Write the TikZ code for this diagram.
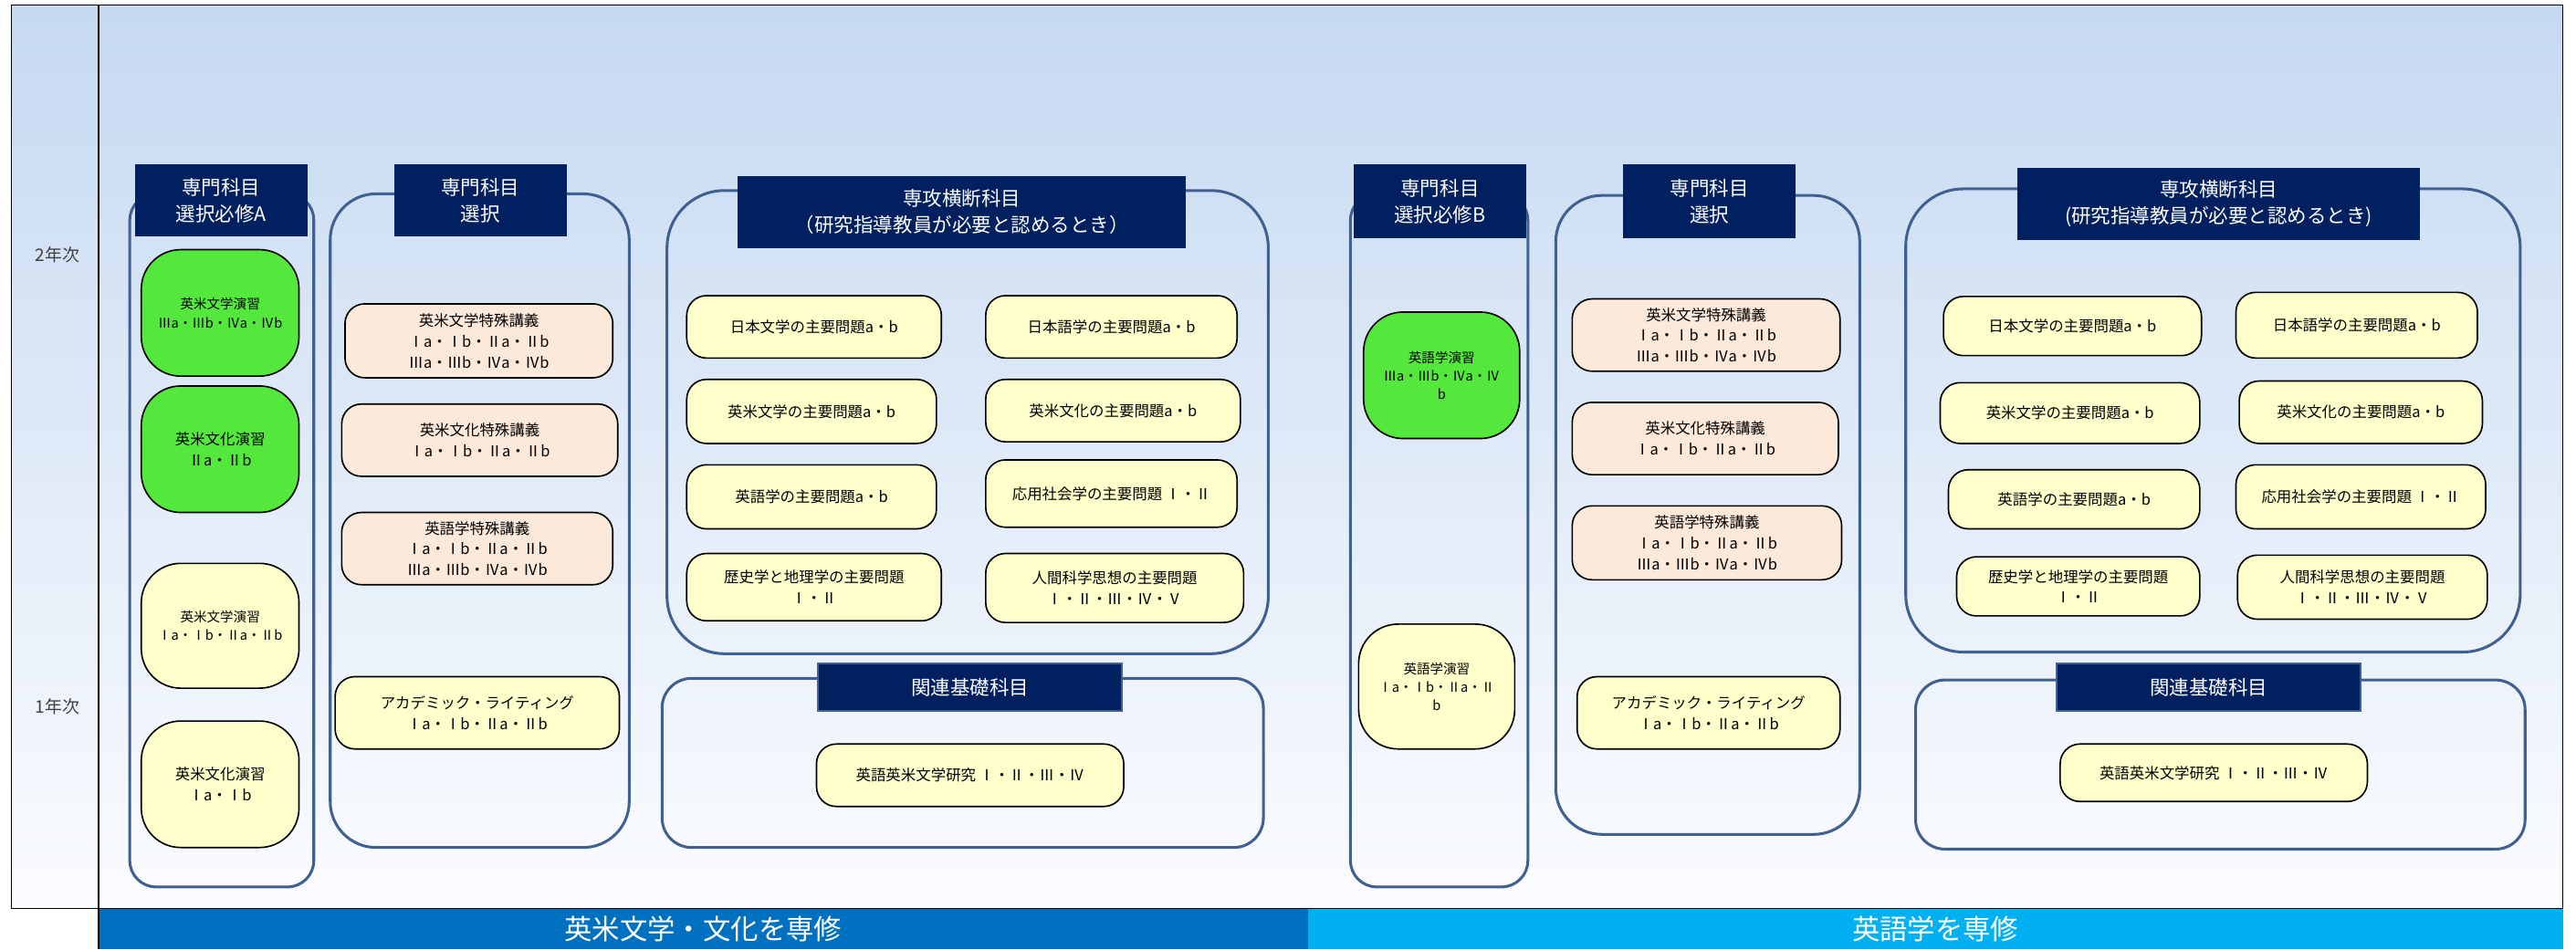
\documentclass[tikz,border=0pt]{standalone}
\usepackage{fontspec}
\setmainfont{Noto Sans CJK JP}
\usepackage{tikz}
\usepackage{xcolor}
\usetikzlibrary{positioning, calc}

\definecolor{navy}{RGB}{0,32,96}
\definecolor{frameblue}{RGB}{63,96,145}
\definecolor{leafgreen}{RGB}{84,232,60}
\definecolor{salmon}{RGB}{253,233,217}
\definecolor{cream}{RGB}{255,255,204}
\definecolor{skytop}{RGB}{197,217,241}
\definecolor{skymid}{RGB}{219,235,243}
\definecolor{skybottom}{RGB}{251,252,255}
\definecolor{barleft}{RGB}{0,112,192}
\definecolor{barright}{RGB}{0,176,240}
\definecolor{yeargray}{RGB}{64,64,64}

\newlength{\cellu}
\setlength{\cellu}{0.05cm}

\tikzset{
  boxsize/.style 2 args={minimum width=#1\cellu, minimum height=#2\cellu},
  head/.style={fill=navy, text=white, inner sep=0pt, align=center, font=\fontsize{17}{23}\selectfont},
  group/.style={draw=frameblue, line width=2.4pt},
  course/.style={draw=black, line width=1.3pt, rounded corners=0.6cm, inner sep=0pt, align=center, font=\fontsize{13}{18}\selectfont},
  seminar/.style={course, rounded corners=1.2cm},
  smalltext/.style={font=\fontsize{11.5}{16}\selectfont},
  bar/.style={inner sep=0pt, text=white, font=\fontsize{24}{28}\selectfont},
  yearlabel/.style={text=yeargray, font=\fontsize{15}{18}\selectfont}
}

\begin{document}
\begin{tikzpicture}[x=0.05cm, y=-0.05cm]
    \useasboundingbox (0,0) rectangle (1568,578);
    \shade[top color=skytop, middle color=skymid, bottom color=skybottom] (7,3) rectangle (1560,553);
    \node[bar, fill=barleft, boxsize={736}{25}] (majlit) at (428,565.5) {英米文学・文化を専修};
    \node[bar, fill=barright, boxsize={764}{25}] (majling) at (1178,565.5) {英語学を専修};
    \draw[line width=1.2pt] (7,3) rectangle (1560,553);
    \draw[line width=1.2pt] (60,3) -- (60,578);
    \node[yearlabel] (yr2) at (35,155) {2年次};
    \node[yearlabel] (yr1) at (35,430) {1年次};

    % 英米文学・文化
    \draw[group, rounded corners=0.8cm] (79,118) rectangle (191,540);
    \draw[group, rounded corners=1.4cm] (201,118) rectangle (383,516);
    \draw[group, rounded corners=1.75cm] (406,116) rectangle (772,398);
    \draw[group, rounded corners=0.9cm] (403,413) rectangle (769,516);

    \node[head, boxsize={105}{44}] (hda) at (134.5,122) {専門科目\\選択必修A};
    \node[seminar, smalltext, fill=leafgreen, boxsize={96}{77}] (semlit3) at (134,190.5) {英米文学演習\\Ⅲa・Ⅲb・Ⅳa・Ⅳb};
    \node[seminar, fill=leafgreen, boxsize={96}{77}] (semcul2) at (134,273.5) {英米文化演習\\Ⅱa・Ⅱb};
    \node[seminar, smalltext, fill=cream, boxsize={96}{76}] (semlit1) at (134,381) {英米文学演習\\Ⅰa・Ⅰb・Ⅱa・Ⅱb};
    \node[seminar, fill=cream, boxsize={96}{77}] (semcul1) at (134,477.5) {英米文化演習\\Ⅰa・Ⅰb};

    \node[head, boxsize={105}{44}] (hsa) at (292.5,122) {専門科目\\選択};
    \node[course, fill=salmon, boxsize={163}{45}] (split) at (291.5,207.5) {英米文学特殊講義\\Ⅰa・Ⅰb・Ⅱa・Ⅱb\\Ⅲa・Ⅲb・Ⅳa・Ⅳb};
    \node[course, fill=salmon, boxsize={168}{44}] (spcul) at (292,268) {英米文化特殊講義\\Ⅰa・Ⅰb・Ⅱa・Ⅱb};
    \node[course, fill=salmon, boxsize={165}{44}] (spling) at (290.5,334) {英語学特殊講義\\Ⅰa・Ⅰb・Ⅱa・Ⅱb\\Ⅲa・Ⅲb・Ⅳa・Ⅳb};
    \node[course, fill=cream, boxsize={173}{44}] (acwa) at (290.5,434) {アカデミック・ライティング\\Ⅰa・Ⅰb・Ⅱa・Ⅱb};

    \node[head, boxsize={273}{44}] (hca) at (585.5,129) {専攻横断科目\\（研究指導教員が必要と認めるとき）};
    \node[course, fill=cream, boxsize={155}{38}] (jlit) at (495.5,199) {日本文学の主要問題a・b};
    \node[course, fill=cream, boxsize={152}{39}] (alit) at (494,250.5) {英米文学の主要問題a・b};
    \node[course, fill=cream, boxsize={152}{39}] (eling) at (494,302.5) {英語学の主要問題a・b};
    \node[course, fill=cream, boxsize={155}{41}] (hist) at (495.5,357.5) {歴史学と地理学の主要問題\\Ⅰ・Ⅱ};
    \node[course, fill=cream, boxsize={153}{38}] (jling) at (676.5,199) {日本語学の主要問題a・b};
    \node[course, fill=cream, boxsize={155}{38}] (acul) at (677.5,250) {英米文化の主要問題a・b};
    \node[course, fill=cream, boxsize={153}{41}] (socio) at (676.5,300.5) {応用社会学の主要問題 Ⅰ・Ⅱ};
    \node[course, fill=cream, boxsize={157}{42}] (human) at (678.5,358) {人間科学思想の主要問題\\Ⅰ・Ⅱ・Ⅲ・Ⅳ・Ⅴ};

    \node[head, draw=frameblue, line width=1.5pt, boxsize={185}{29}] (hra) at (590.5,418.5) {関連基礎科目};
    \node[course, fill=cream, boxsize={187}{38}] (resa) at (590.5,472) {英語英米文学研究 Ⅰ・Ⅱ・Ⅲ・Ⅳ};

    % 英語学
    \draw[group, rounded corners=0.8cm] (822,118) rectangle (930,540);
    \draw[group, rounded corners=1.4cm] (947,119) rectangle (1132,508);
    \draw[group, rounded corners=1.75cm] (1160,115) rectangle (1534,397);
    \draw[group, rounded corners=0.9cm] (1166,414) rectangle (1537,517);

    \node[head, boxsize={105}{45}] (hdb) at (876.5,122.5) {専門科目\\選択必修B};
    \node[seminar, smalltext, fill=leafgreen, boxsize={95}{77}] (semlng3) at (877.5,228.5) {英語学演習\\Ⅲa・Ⅲb・Ⅳa・Ⅳ\\b};
    \node[seminar, smalltext, fill=cream, boxsize={95}{76}] (semlng1) at (874.5,418) {英語学演習\\Ⅰa・Ⅰb・Ⅱa・Ⅱ\\b};

    \node[head, boxsize={105}{45}] (hsb) at (1040.5,122.5) {専門科目\\選択};
    \node[course, fill=salmon, boxsize={163}{44}] (sqlit) at (1038.5,204) {英米文学特殊講義\\Ⅰa・Ⅰb・Ⅱa・Ⅱb\\Ⅲa・Ⅲb・Ⅳa・Ⅳb};
    \node[course, fill=salmon, boxsize={162}{44}] (sqcul) at (1038,267) {英米文化特殊講義\\Ⅰa・Ⅰb・Ⅱa・Ⅱb};
    \node[course, fill=salmon, boxsize={164}{45}] (sqling) at (1039,330.5) {英語学特殊講義\\Ⅰa・Ⅰb・Ⅱa・Ⅱb\\Ⅲa・Ⅲb・Ⅳa・Ⅳb};
    \node[course, fill=cream, boxsize={160}{44}] (acwb) at (1040,434) {アカデミック・ライティング\\Ⅰa・Ⅰb・Ⅱa・Ⅱb};

    \node[head, boxsize={245}{44}] (hcb) at (1350.5,124) {専攻横断科目\\(研究指導教員が必要と認めるとき)};
    \node[course, fill=cream, boxsize={157}{36}] (jlitb) at (1261.5,198.5) {日本文学の主要問題a・b};
    \node[course, fill=cream, boxsize={158}{37}] (alitb) at (1260,251.5) {英米文学の主要問題a・b};
    \node[course, fill=cream, boxsize={153}{36}] (elingb) at (1262.5,304) {英語学の主要問題a・b};
    \node[course, fill=cream, boxsize={148}{36}] (histb) at (1265,357) {歴史学と地理学の主要問題\\Ⅰ・Ⅱ};
    \node[course, fill=cream, boxsize={147}{40}] (jlingb) at (1434.5,198) {日本語学の主要問題a・b};
    \node[course, fill=cream, boxsize={148}{38}] (aculb) at (1437,251) {英米文化の主要問題a・b};
    \node[course, fill=cream, boxsize={152}{39}] (sociob) at (1437,302.5) {応用社会学の主要問題 Ⅰ・Ⅱ};
    \node[course, fill=cream, boxsize={152}{39}] (humanb) at (1438,357.5) {人間科学思想の主要問題\\Ⅰ・Ⅱ・Ⅲ・Ⅳ・Ⅴ};

    \node[head, draw=frameblue, line width=1.5pt, boxsize={185}{29}] (hrb) at (1344.5,418.5) {関連基礎科目};
    \node[course, fill=cream, boxsize={187}{35}] (resb) at (1347.5,470.5) {英語英米文学研究 Ⅰ・Ⅱ・Ⅲ・Ⅳ};
\end{tikzpicture}
\end{document}
